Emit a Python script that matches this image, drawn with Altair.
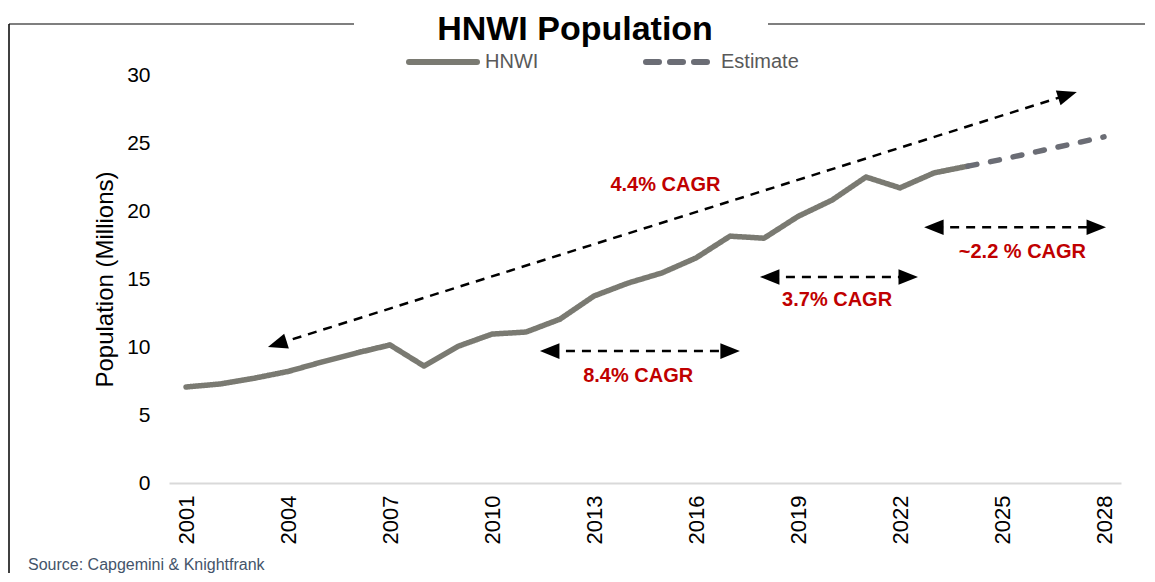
import math
import altair as alt
import pandas as pd

# ---------------- data ----------------
hnwi_years = list(range(2001, 2025))
hnwi_values = [7.06, 7.28, 7.7, 8.2, 8.9, 9.55, 10.15, 8.6, 10.05, 10.95, 11.1, 12.05,
               13.75, 14.7, 15.45, 16.55, 18.15, 18.0, 19.6, 20.8, 22.5, 21.7, 22.8, 23.3]
est_years = [2024, 2025, 2026, 2027, 2028]
est_values = [23.3, 23.8, 24.35, 24.9, 25.45]

x_ticks = [2001, 2004, 2007, 2010, 2013, 2016, 2019, 2022, 2025, 2028]
y_ticks = [0, 5, 10, 15, 20, 25, 30]

# CAGR arrows (tip to tip, in data units)
arrow_x1 = [2003.41, 2011.41, 2017.88, 2022.71]
arrow_y1 = [10.0, 9.7, 15.15, 18.8]
arrow_x2 = [2027.2, 2017.29, 2022.53, 2028.06]
arrow_y2 = [28.75, 9.7, 15.15, 18.8]

label_text = ["4.4% CAGR", "8.4% CAGR", "3.7% CAGR", "~2.2 % CAGR"]
label_x = [2015.1, 2014.3, 2020.15, 2025.6]
label_y = [21.9, 7.87, 13.46, 17.0]

source_text = ["Source: Capgemini & Knightfrank"]
title_text = ["HNWI Population"]
series_names = ["HNWI", "Estimate"]

# ---------------- layout ----------------
W, H = 952, 408
X_DOM = [2000.5, 2028.5]
Y_DOM = [0, 30]
PX_X = W / (X_DOM[1] - X_DOM[0])
PX_Y = H / (Y_DOM[1] - Y_DOM[0])
FONT = "Liberation Sans"

line_df = pd.DataFrame({
    "year": hnwi_years + est_years,
    "value": hnwi_values + est_values,
    "series": ["HNWI"] * len(hnwi_years) + ["Estimate"] * len(est_years),
})

shaft_rows, head_rows = [], []
for x1, y1, x2, y2 in zip(arrow_x1, arrow_y1, arrow_x2, arrow_y2):
    dxp = (x2 - x1) * PX_X
    dyp = -(y2 - y1) * PX_Y
    L = math.hypot(dxp, dyp)
    ux, uy = dxp / L, dyp / L
    cut = 10
    shaft_rows.append({
        "x": x1 + ux * cut / PX_X, "y": y1 - uy * cut / PX_Y,
        "x2": x2 - ux * cut / PX_X, "y2": y2 + uy * cut / PX_Y,
    })
    ang = math.degrees(math.atan2(dyp, dxp)) % 360
    head_rows.append({"x": x2, "y": y2, "angle": ang})
    head_rows.append({"x": x1, "y": y1, "angle": (ang + 180) % 360})
shaft_df = pd.DataFrame(shaft_rows)
head_df = pd.DataFrame(head_rows)
label_df = pd.DataFrame({"text": label_text, "x": label_x, "y": label_y})

xs = alt.Scale(domain=X_DOM, nice=False, zero=False)
ys = alt.Scale(domain=Y_DOM, nice=False)

color_scale = alt.Scale(domain=series_names, range=["#7a7a72", "#6b6d75"])
dash_scale = alt.Scale(domain=series_names, range=[[1, 0], [9, 14]])

lines = alt.Chart(line_df).mark_line(strokeWidth=5.5, strokeCap="round", strokeJoin="round").encode(
    x=alt.X("year:Q", scale=xs, axis=alt.Axis(
        values=x_ticks, format="d", labelAngle=270, labelFontSize=22, labelFont=FONT,
        labelColor="#000000", labelPadding=12, ticks=False, grid=False,
        domainColor="#d9d9d9", domainWidth=2, title=None)),
    y=alt.Y("value:Q", scale=ys, axis=alt.Axis(
        values=y_ticks, labelFontSize=21, labelFont=FONT, labelColor="#000000",
        labelPadding=19, ticks=False, grid=False, domain=False,
        title="Population (Millions)", titleFont=FONT, titleFontSize=24,
        titleFontWeight="normal", titleColor="#000000", titlePadding=9)),
    color=alt.Color("series:N", scale=color_scale, legend=None),
    strokeDash=alt.StrokeDash("series:N", scale=dash_scale, legend=None),
    detail="series:N",
)

shafts = alt.Chart(shaft_df).mark_rule(color="#000000", strokeWidth=2.5, strokeDash=[9, 7]).encode(
    x=alt.X("x:Q", scale=xs), y=alt.Y("y:Q", scale=ys),
    x2="x2:Q", y2="y2:Q",
)

heads = alt.Chart(head_df).mark_point(
    shape="M0,0 L-2,-0.8 L-2,0.8 Z", filled=True, color="#000000", opacity=1, size=380,
).encode(
    x=alt.X("x:Q", scale=xs), y=alt.Y("y:Q", scale=ys),
    angle=alt.Angle("angle:Q", scale=None),
)

labels = alt.Chart(label_df).mark_text(
    font=FONT, fontSize=20, fontWeight="bold", color="#c00000",
).encode(
    x=alt.X("x:Q", scale=xs), y=alt.Y("y:Q", scale=ys), text="text:N",
)

# ---- legend (drawn as marks, colours taken from the series scale) ----
leg_hnwi = pd.DataFrame({"series": [series_names[0]]})
leg_est = pd.DataFrame({"series": [series_names[1]]})
leg_sym1 = alt.Chart(leg_hnwi).mark_rule(strokeWidth=6, strokeCap="round").encode(
    x=alt.value(240), x2=alt.value(308), y=alt.value(-13),
    color=alt.Color("series:N", scale=color_scale, legend=None))
leg_sym2 = alt.Chart(leg_est).mark_rule(strokeWidth=6, strokeCap="round", strokeDash=[13, 11]).encode(
    x=alt.value(477), x2=alt.value(539), y=alt.value(-13),
    color=alt.Color("series:N", scale=color_scale, legend=None))
leg_txt1 = alt.Chart(leg_hnwi).mark_text(font=FONT, fontSize=20, color="#595959",
                                         align="left", baseline="middle").encode(
    x=alt.value(316), y=alt.value(-13), text="series:N")
leg_txt2 = alt.Chart(leg_est).mark_text(font=FONT, fontSize=20, color="#595959",
                                        align="left", baseline="middle").encode(
    x=alt.value(552), y=alt.value(-13), text="series:N")

# ---- title and frame ----
title = alt.Chart(pd.DataFrame({"t": title_text})).mark_text(
    font=FONT, fontSize=34, fontWeight="bold", color="#000000",
    align="center", baseline="alphabetic",
).encode(x=alt.value(406), y=alt.value(-35), text="t:N")

one = pd.DataFrame({"a": [0]})
frame_color = "#7f7f7f"
top_left = alt.Chart(one).mark_rule(color=frame_color, strokeWidth=2).encode(
    x=alt.value(-160), x2=alt.value(185), y=alt.value(-51))
top_right = alt.Chart(one).mark_rule(color=frame_color, strokeWidth=2).encode(
    x=alt.value(599), x2=alt.value(1000), y=alt.value(-51))
left_edge = alt.Chart(one).mark_rule(color="#000000", strokeWidth=1.5).encode(
    x=alt.value(-160), y=alt.value(-51), y2=alt.value(520))

source = alt.Chart(pd.DataFrame({"t": source_text})).mark_text(
    font=FONT, fontSize=16, color="#44546a", align="left", baseline="middle",
).encode(x=alt.value(-141), y=alt.value(490), text="t:N")

chart = alt.layer(
    top_left, top_right, left_edge, title,
    leg_sym1, leg_sym2, leg_txt1, leg_txt2,
    lines, shafts, heads, labels, source,
).properties(
    width=W, height=H,
    autosize=alt.AutoSizeParams(type="none"),
    padding={"left": 161, "top": 67, "right": 24, "bottom": 90},
).configure_view(stroke=None)

chart.save("out.html", embed_options={"renderer": "svg", "actions": False})
